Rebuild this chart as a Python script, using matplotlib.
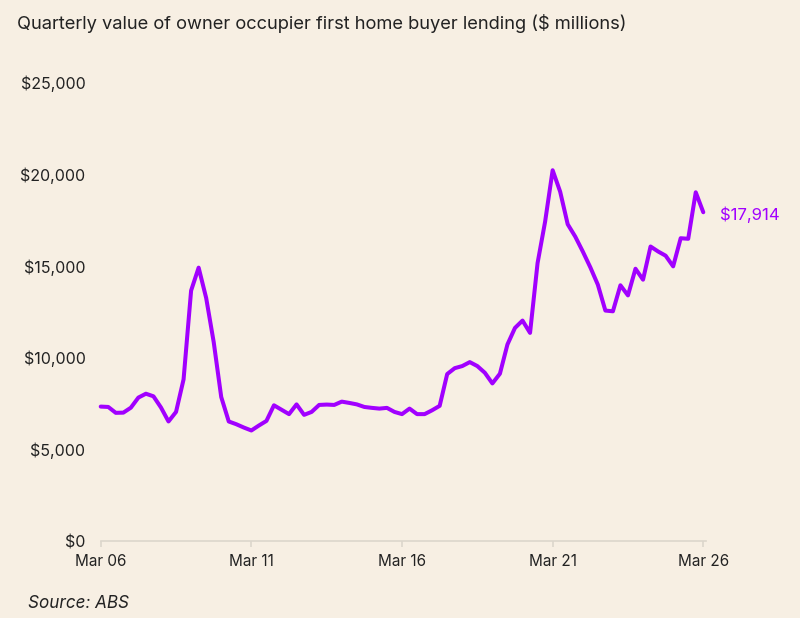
import matplotlib
matplotlib.use("Agg")
import matplotlib.pyplot as plt
from matplotlib.ticker import FuncFormatter

# quarterly value of owner occupier first home buyer lending, $ millions
# Mar 2006 .. Mar 2026 (81 quarters)
lending = [
    7340, 7320, 7000, 7010, 7280, 7830, 8040, 7900, 7290, 6530,
    7050, 8820, 13650, 14900, 13250, 10850, 7860, 6530, 6380, 6200,
    6040, 6310, 6560, 7410, 7170, 6930, 7460, 6890, 7050, 7430,
    7450, 7430, 7610, 7540, 7460, 7320, 7270, 7230, 7270, 7050,
    6930, 7230, 6930, 6930, 7140, 7380, 9110, 9430, 9545, 9760,
    9545, 9180, 8600, 9130, 10720, 11620, 12020, 11350, 15150, 17400,
    20200, 19030, 17260, 16590, 15780, 14920, 13975, 12565, 12525, 13940,
    13390, 14840, 14245, 16050, 15780, 15550, 14970, 16500, 16470, 19000,
    17914,
]
quarters = list(range(len(lending)))

tick_pos = [0, 20, 40, 60, 80]
tick_labels = ["Mar 06", "Mar 11", "Mar 16", "Mar 21", "Mar 26"]
y_ticks = [0, 5000, 10000, 15000, 20000, 25000]

bg = "#f7efe3"
purple = "#a100ff"
ink = "#222222"
axis_grey = "#dcd6cc"

plt.rcParams['font.family'] = ['Inter', 'DejaVu Sans']

fig = plt.figure(figsize=(8, 6.18), dpi=100, facecolor=bg)
ax = fig.add_axes([0.1259, 0.1238, 0.7532, 0.7435], facecolor=bg)

ax.plot(quarters, lending, color=purple, lw=2.9, solid_joinstyle='round',
        solid_capstyle='round', clip_on=False)

ax.set_xlim(0, 80)
ax.set_ylim(0, 25000)
ax.set_xticks(tick_pos)
ax.set_xticklabels(tick_labels)
ax.set_yticks(y_ticks)
ax.yaxis.set_major_formatter(FuncFormatter(lambda v, p: "${:,.0f}".format(v)))

for s in ['top', 'right', 'left']:
    ax.spines[s].set_visible(False)
ax.spines['bottom'].set_color(axis_grey)
ax.spines['bottom'].set_linewidth(1.2)
ax.spines['bottom'].set_bounds(0, 80.3)
ax.tick_params(axis='x', length=4, width=1.2, color=axis_grey, labelsize=11, labelcolor=ink, pad=5)
ax.tick_params(axis='y', length=0, labelsize=11.5, labelcolor=ink, pad=11)

ax.annotate("${:,.0f}".format(lending[-1]), xy=(quarters[-1], lending[-1]),
            xytext=(12, -2), textcoords='offset points', va='center', ha='left',
            color=purple, fontsize=12, annotation_clip=False)

fig.text(0.021, 0.962, "Quarterly value of owner occupier first home buyer lending ($ millions)",
         fontsize=13.2, color=ink, va='center', ha='left')
fig.text(0.035, 0.024, "Source: ABS", fontsize=12.3, color=ink, style='italic', va='center', ha='left')

fig.savefig("out.png", dpi=100, facecolor=bg)
